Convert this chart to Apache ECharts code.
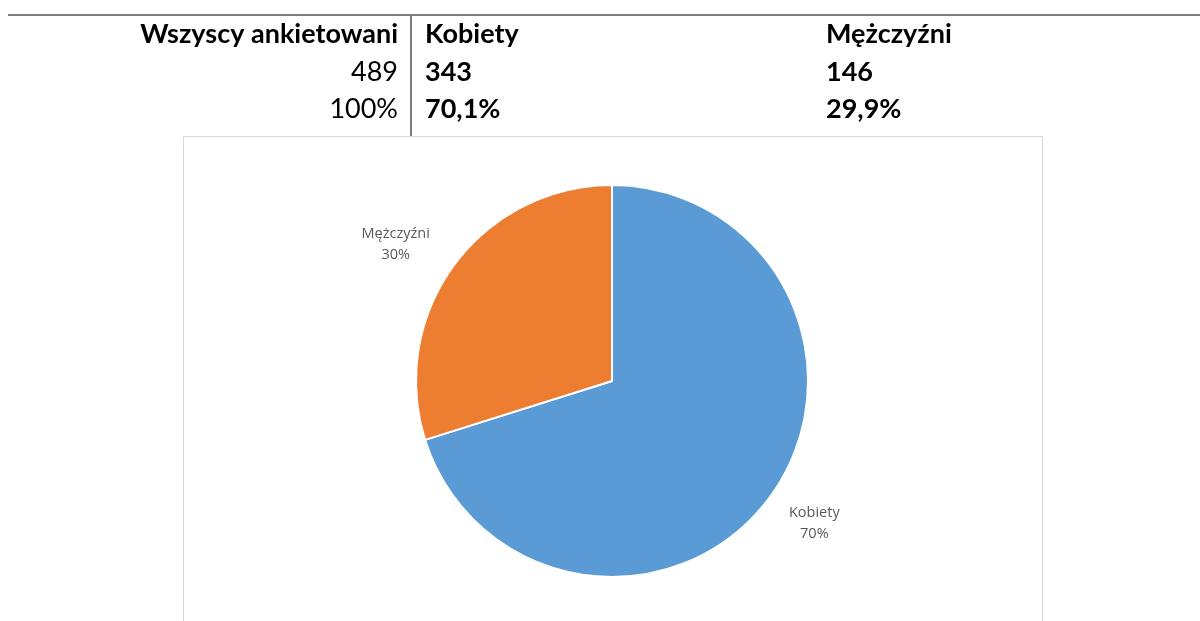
<!DOCTYPE html>
<html>
<head>
<meta charset="utf-8">
<script src="https://cdn.jsdelivr.net/npm/echarts@6/dist/echarts.min.js"></script>
<style>
html, body { margin: 0; padding: 0; background: #fff; }
#chart { width: 1200px; height: 621px; }
</style>
</head>
<body>
<div id="chart"></div>
<script>
// tabela nad wykresem
var headers = ['Wszyscy ankietowani', 'Kobiety', 'Mężczyźni'];
var counts = ['489', '343', '146'];
var shares = ['100%', '70,1%', '29,9%'];

// wykres kołowy
var categories = ['Kobiety', 'Mężczyźni'];
var values = [343, 146];
var colors = ['#5b9bd5', '#ed7d31'];

var chartDom = document.getElementById('chart');
var myChart = echarts.init(chartDom);

var font = 'Lato';
var colX = [398, 425, 826];
var rowY = [34, 72, 109];
var rows = [headers, counts, shares];

var graphics = [
    // linia pozioma
    { type: 'line', shape: { x1: 8, y1: 15, x2: 1200, y2: 15 }, style: { stroke: '#7f7f7f', lineWidth: 2 } },
    // linia pionowa
    { type: 'line', shape: { x1: 411, y1: 15, x2: 411, y2: 136 }, style: { stroke: '#7f7f7f', lineWidth: 2 } },
    // ramka wykresu
    { type: 'rect', shape: { x: 183.5, y: 136.5, width: 859, height: 500 }, style: { fill: 'none', stroke: '#d9d9d9', lineWidth: 1 }, z: -1 }
];

rows.forEach(function (row, r) {
    row.forEach(function (txt, c) {
        graphics.push({
            type: 'text',
            x: colX[c],
            y: rowY[r],
            style: {
                text: txt,
                font: ((r === 0 || c > 0) ? 'bold ' : '') + '27px ' + font,
                fill: '#000',
                align: c === 0 ? 'right' : 'left',
                verticalAlign: 'middle'
            }
        });
    });
});

// odstęp etykiet od koła (jak w Excelu, nie symetrycznie)
var labelLines = [
    { show: false, length: 45, length2: 3 },
    { show: false, length: 35, length2: 25 }
];

var option = {
    animation: false,
    color: colors,
    graphic: graphics,
    series: [{
        type: 'pie',
        center: [612, 381],
        radius: 196,
        startAngle: 90,
        clockwise: true,
        itemStyle: { borderColor: '#fff', borderWidth: 2 },
        label: {
            show: true,
            position: 'outside',
            formatter: function (p) {
                return p.name + '\n' + Math.round(p.percent) + '%';
            },
            color: '#595959',
            fontSize: 14.5,
            lineHeight: 21,
            fontFamily: 'Open Sans'
        },
        labelLine: { show: false },
        labelLayout: function () {
            return { align: 'center' };
        },
        data: categories.map(function (name, i) {
            return { name: name, value: values[i], labelLine: labelLines[i] };
        })
    }]
};

myChart.setOption(option);
</script>
</body>
</html>
